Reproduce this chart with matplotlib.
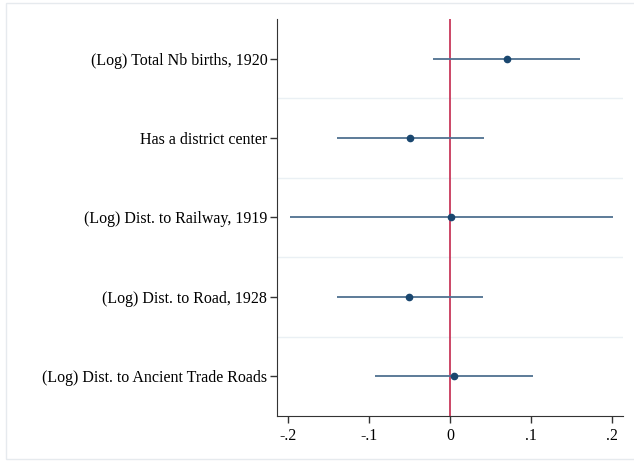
import numpy as np
import matplotlib.pyplot as plt
from matplotlib.patches import Rectangle

labels = ['(Log) Total Nb births, 1920',
          'Has a district center',
          '(Log) Dist. to Railway, 1919',
          '(Log) Dist. to Road, 1928',
          '(Log) Dist. to Ancient Trade Roads']
coef = [0.070, -0.049, 0.001, -0.051, 0.005]
ci_lo = [-0.021, -0.139, -0.198, -0.140, -0.092]
ci_hi = [0.161, 0.042, 0.201, 0.041, 0.102]
xticks = [-0.2, -0.1, 0, 0.1, 0.2]
xticklabels = ['-.2', '-.1', '0', '.1', '.2']

plt.rcParams['font.family'] = ['Liberation Serif', 'DejaVu Serif']

fig = plt.figure(figsize=(6.34, 4.62), dpi=100)
ax = fig.add_axes([277/634, 1-416/462, (623-277)/634, (416-19)/462])

# outer frame like stata graph region
fig.patches.append(Rectangle((6/634, 3/462), 1, 1 - 6/462, transform=fig.transFigure,
                             fill=False, edgecolor='#e6eaee', linewidth=1))

ypos = np.arange(1, len(labels) + 1)

for yb in ypos[:-1] + 0.5:
    ax.axhline(yb, color='#eaf0f4', linewidth=1, zorder=0)

ax.axvline(0, color='#c8385a', linewidth=1.3, zorder=1)
ax.hlines(ypos, ci_lo, ci_hi, color='#4f7190', linewidth=1.3, zorder=2)
ax.plot(coef, ypos, 'o', color='#1a476f', markersize=4.5, zorder=3)

ax.set_xlim(-0.2136, 0.2136)
ax.set_ylim(5.5, 0.5)
ax.set_yticks(ypos)
ax.set_yticklabels(labels, fontsize=11.5)
ax.set_xticks(xticks)
ax.set_xticklabels(xticklabels, fontsize=11.5)
ax.tick_params(axis='both', direction='out', length=5, width=1, color='#333333')
ax.tick_params(axis='y', pad=2)
ax.tick_params(axis='x', pad=4)

ax.spines['top'].set_visible(False)
ax.spines['right'].set_visible(False)
ax.spines['left'].set_color('#333333')
ax.spines['bottom'].set_color('#333333')

fig.savefig('out.png', dpi=100)
